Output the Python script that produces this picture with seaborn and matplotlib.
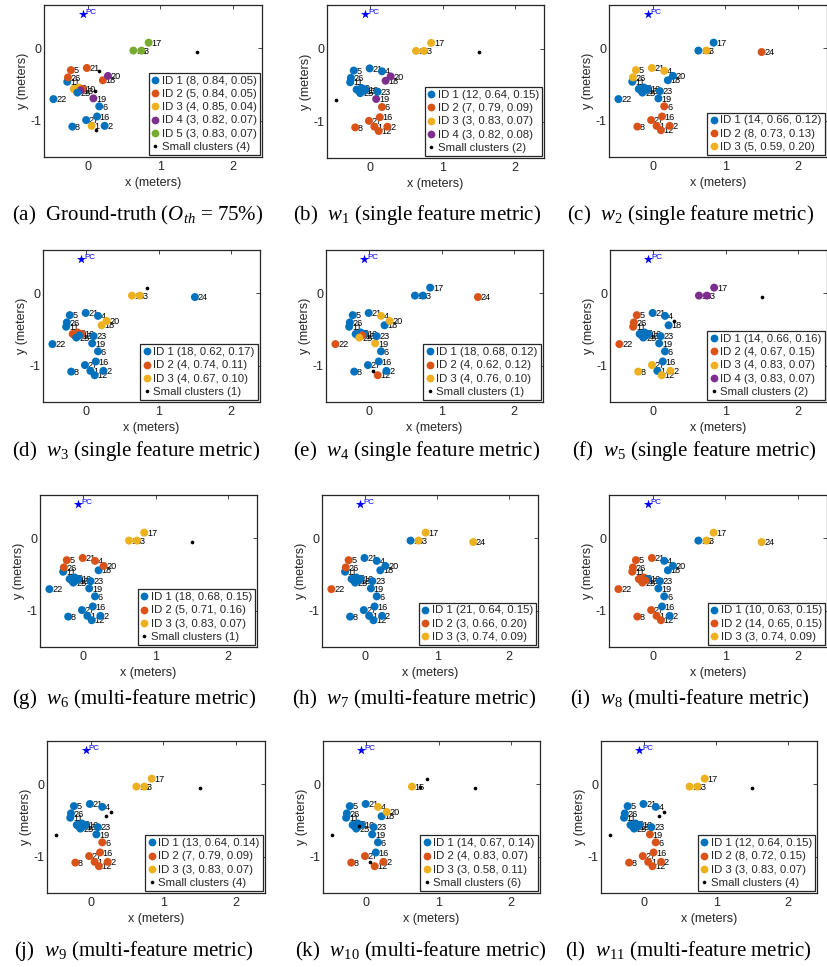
import numpy as np
import pandas as pd
import matplotlib
matplotlib.use("Agg")
import matplotlib.pyplot as plt
from matplotlib.lines import Line2D
import seaborn as sns

# ---------------- data ----------------
node_ids = list(range(1, 28))
node_x = [0.055, 0.235, 0.74, 0.16, -0.23, 0.16, -0.16, -0.21, -0.12, -0.07,
          -0.28, 0.115, -0.10, -0.19, 0.63, 0.13, 0.84, 0.21, 0.08, 0.28,
          -0.01, -0.47, 0.10, 1.50, -0.14, -0.27, -0.02]
node_y = [-1.07, -1.07, -0.03, -0.31, -0.30, -0.80, -0.58, -1.08, -0.54, -0.56,
          -0.46, -1.13, -0.58, -0.56, -0.03, -0.94, 0.08, -0.44, -0.69, -0.38,
          -0.27, -0.70, -0.59, -0.05, -0.61, -0.40, -0.99]
pc_x = [-0.07]
pc_y = [0.47]

# cluster id per node (node 1..27); 0 = small cluster
assign_a = [3, 1, 5, 0, 2, 1, 3, 1, 3, 2, 1, 0, 4, 3, 5, 1, 5, 2, 4, 4, 2, 1, 0, 0, 1, 2, 1]
assign_b = [2, 2, 3, 1, 1, 2, 1, 2, 1, 1, 1, 2, 1, 1, 3, 2, 3, 4, 4, 4, 1, 0, 1, 0, 1, 1, 2]
assign_c = [2, 2, 3, 3, 3, 2, 1, 2, 1, 1, 1, 2, 1, 1, 1, 2, 1, 1, 1, 1, 3, 1, 1, 2, 1, 3, 2]
assign_d = [1, 1, 3, 1, 1, 1, 2, 1, 2, 2, 1, 1, 1, 2, 3, 1, 0, 3, 1, 3, 1, 1, 1, 1, 1, 1, 1]
assign_e = [0, 1, 1, 3, 1, 1, 1, 1, 1, 1, 1, 2, 2, 1, 1, 1, 1, 1, 3, 3, 1, 2, 1, 2, 3, 1, 1]
assign_f = [1, 3, 4, 1, 2, 1, 1, 3, 1, 1, 2, 3, 1, 1, 4, 1, 4, 1, 1, 0, 1, 2, 1, 0, 1, 2, 3]
assign_g = [1, 1, 3, 2, 2, 1, 1, 1, 1, 1, 1, 1, 1, 1, 3, 1, 3, 1, 1, 2, 2, 1, 1, 0, 1, 2, 1]
assign_h = [1, 1, 3, 1, 2, 1, 1, 1, 1, 1, 1, 1, 1, 1, 1, 1, 3, 1, 1, 1, 1, 2, 1, 3, 1, 2, 1]
assign_i = [2, 1, 3, 1, 2, 1, 2, 2, 2, 1, 2, 2, 2, 2, 1, 1, 3, 1, 1, 1, 2, 2, 1, 3, 2, 2, 2]
assign_j = [2, 2, 3, 1, 1, 2, 1, 2, 1, 1, 1, 2, 1, 1, 3, 2, 3, 0, 1, 0, 1, 0, 1, 0, 1, 1, 2]
assign_k = [0, 2, 0, 3, 1, 1, 1, 2, 1, 1, 1, 2, 0, 1, 3, 1, 0, 1, 1, 3, 1, 0, 1, 0, 1, 1, 2]
assign_l = [2, 2, 3, 1, 1, 2, 1, 2, 1, 1, 1, 2, 1, 1, 3, 2, 3, 0, 2, 0, 1, 0, 1, 0, 1, 1, 2]

# legend statistics (size, mean, std) per cluster id
stats_a = [(8, 0.84, 0.05), (5, 0.84, 0.05), (4, 0.85, 0.04), (3, 0.82, 0.07), (3, 0.83, 0.07)]
stats_b = [(12, 0.64, 0.15), (7, 0.79, 0.09), (3, 0.83, 0.07), (3, 0.82, 0.08)]
stats_c = [(14, 0.66, 0.12), (8, 0.73, 0.13), (5, 0.59, 0.20)]
stats_d = [(18, 0.62, 0.17), (4, 0.74, 0.11), (4, 0.67, 0.10)]
stats_e = [(18, 0.68, 0.12), (4, 0.62, 0.12), (4, 0.76, 0.10)]
stats_f = [(14, 0.66, 0.16), (4, 0.67, 0.15), (4, 0.83, 0.07), (3, 0.83, 0.07)]
stats_g = [(18, 0.68, 0.15), (5, 0.71, 0.16), (3, 0.83, 0.07)]
stats_h = [(21, 0.64, 0.15), (3, 0.66, 0.20), (3, 0.74, 0.09)]
stats_i = [(10, 0.63, 0.15), (14, 0.65, 0.15), (3, 0.74, 0.09)]
stats_j = [(13, 0.64, 0.14), (7, 0.79, 0.09), (3, 0.83, 0.07)]
stats_k = [(14, 0.67, 0.14), (4, 0.83, 0.07), (3, 0.58, 0.11)]
stats_l = [(12, 0.64, 0.15), (8, 0.72, 0.15), (3, 0.83, 0.07)]

small_counts = [4, 2, 0, 1, 1, 2, 1, 0, 0, 4, 6, 4]

captions = [
    "(a)  Ground-truth ($O_{th}$ = 75%)",
    "(b)  $w_1$ (single feature metric)",
    "(c)  $w_2$ (single feature metric)",
    "(d)  $w_3$ (single feature metric)",
    "(e)  $w_4$ (single feature metric)",
    "(f)  $w_5$ (single feature metric)",
    "(g)  $w_6$ (multi-feature metric)",
    "(h)  $w_7$ (multi-feature metric)",
    "(i)  $w_8$ (multi-feature metric)",
    "(j)  $w_9$ (multi-feature metric)",
    "(k)  $w_{10}$ (multi-feature metric)",
    "(l)  $w_{11}$ (multi-feature metric)",
]

assigns = [assign_a, assign_b, assign_c, assign_d, assign_e, assign_f,
           assign_g, assign_h, assign_i, assign_j, assign_k, assign_l]
stats_all = [stats_a, stats_b, stats_c, stats_d, stats_e, stats_f,
             stats_g, stats_h, stats_i, stats_j, stats_k, stats_l]

cluster_colors = ["#0072BD", "#D95319", "#EDB120", "#7E2F8E", "#77AC30"]

# ---------------- style ----------------
sns.set_style("white")
plt.rcParams["font.family"] = ["Liberation Sans", "DejaVu Sans"]
plt.rcParams["axes.unicode_minus"] = False
plt.rcParams["mathtext.fontset"] = "custom"
plt.rcParams["mathtext.rm"] = "Liberation Serif"
plt.rcParams["mathtext.it"] = "Liberation Serif:italic"

W, H = 827, 967
fig = plt.figure(figsize=(W / 100, H / 100), dpi=100)

# axes rectangles in pixels: left, right, top, bottom
rects = [
    (44, 262, 5, 157), (327, 544, 5, 158), (609, 827, 5, 157),
    (43, 260, 250, 402), (326, 543, 250, 402), (610, 827, 250, 402),
    (40, 257, 495, 647), (322, 538, 495, 647), (609, 827, 495, 647),
    (47, 265, 741, 893), (323, 540, 741, 893), (601, 817, 741, 893),
]
cap_pos = [
    (12, 215), (293, 215), (567, 215),
    (12, 451), (293, 451), (572, 451),
    (12, 699), (292, 699), (570, 699),
    (14, 951), (295, 951), (565, 951),
]

AX_COL = "#262626"

for p in range(12):
    l, r, t, b = rects[p]
    ax = fig.add_axes([l / W, 1 - b / H, (r - l) / W, (b - t) / H])
    df = pd.DataFrame({"node": node_ids, "x": node_x, "y": node_y, "cid": assigns[p]})
    stats = stats_all[p]
    order = [f"ID {c}" for c in range(1, len(stats) + 1)]
    pal = dict(zip(order, cluster_colors))

    big = df[df.cid > 0].copy()
    big["cluster"] = big["cid"].map(lambda c: f"ID {c}")
    small = df[df.cid == 0]

    # node labels (beneath markers)
    for _, row in big.iterrows():
        ax.annotate(str(int(row.node)), (row.x, row.y), xytext=(2.0, -0.5),
                    textcoords="offset points", fontsize=6.6, ha="left",
                    va="center", color="black", zorder=2.5)

    sns.scatterplot(data=big, x="x", y="y", hue="cluster", hue_order=order,
                    palette=pal, s=33, linewidth=0, legend=False, ax=ax, zorder=3)
    if len(small):
        sns.scatterplot(data=small, x="x", y="y", color="black", s=7,
                        linewidth=0, legend=False, ax=ax, zorder=3.5)

    ax.scatter(pc_x, pc_y, marker="*", s=48, color="#0000FF", linewidth=0, zorder=3)
    ax.annotate("PC", (pc_x[0], pc_y[0]), xytext=(2.3, 1.2), textcoords="offset points",
                fontsize=5.8, color="#0000FF", ha="left", va="center")

    ax.set_xlim(-0.6, 2.4)
    ax.set_ylim(-1.5, 0.6)
    ax.set_xticks([0, 1, 2])
    ax.set_yticks([-1, 0])
    ax.tick_params(direction="in", top=True, right=True, length=3, width=0.6,
                   labelsize=9, colors=AX_COL)
    ax.tick_params(axis="x", pad=3)
    ax.tick_params(axis="y", pad=2)
    ax.set_xlabel("x (meters)", fontsize=9, labelpad=3, color=AX_COL)
    ax.set_ylabel("y (meters)", fontsize=9, labelpad=1, color=AX_COL)
    for s in ax.spines.values():
        s.set_linewidth(0.9)
        s.set_color(AX_COL)

    handles = [Line2D([], [], marker="o", ls="none", color=cluster_colors[i],
                      markeredgewidth=0, markersize=5.6,
                      label=f"ID {i + 1} ({n}, {a:.2f}, {sd:.2f})")
               for i, (n, a, sd) in enumerate(stats)]
    if small_counts[p]:
        handles.append(Line2D([], [], marker="o", ls="none", color="black",
                              markeredgewidth=0, markersize=2.6,
                              label=f"Small clusters ({small_counts[p]})"))
    leg = ax.legend(handles=handles, loc="lower right", fontsize=8.2, frameon=True,
                    fancybox=False, edgecolor=AX_COL, framealpha=1,
                    borderpad=0.25, labelspacing=0.28, handlelength=0.6,
                    handletextpad=0.3, borderaxespad=0.2)
    leg.get_frame().set_linewidth(0.9)

    cx, cy = cap_pos[p]
    fig.text(cx / W, 1 - cy / H, captions[p], fontsize=15,
             family="Liberation Serif", ha="left", va="center", color="black")

fig.savefig("out.png", dpi=100)
